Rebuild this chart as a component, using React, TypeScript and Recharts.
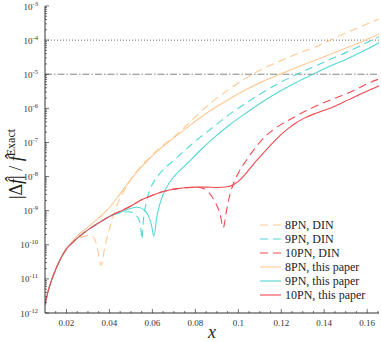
import React from "react";
import { LineChart, Line, XAxis, YAxis, ReferenceLine, Legend } from "recharts";

const ORANGE = "#FFC892";
const CYAN = "#52D8D6";
const RED = "#F04A50";
const AXIS = "#333";
const FONT = "'Liberation Serif', serif";

// [x, |Δf|/f]
const pn10Paper = [
  [0.01, 1.78e-12], [0.0115, 4.47e-12], [0.013, 8.91e-12], [0.015, 1.91e-11], [0.0175, 4.17e-11],
  [0.02, 7.59e-11], [0.023, 1.2e-10], [0.0265, 1.86e-10], [0.031, 3.02e-10], [0.0355, 4.57e-10],
  [0.04, 6.76e-10], [0.045, 9.55e-10], [0.05, 1.38e-9], [0.055, 2.09e-9], [0.06, 2.82e-9],
  [0.065, 3.63e-9], [0.07, 4.27e-9], [0.075, 4.68e-9], [0.08, 4.9e-9], [0.085, 4.9e-9],
  [0.09, 4.79e-9], [0.095, 5.01e-9], [0.0975, 5.62e-9], [0.1, 7.24e-9], [0.103, 1.12e-8],
  [0.107, 2.29e-8], [0.111, 4.37e-8], [0.115, 8.32e-8], [0.119, 1.51e-7], [0.123, 2.51e-7],
  [0.127, 3.8e-7], [0.131, 5.25e-7], [0.135, 6.76e-7], [0.139, 8.32e-7], [0.143, 1.02e-6],
  [0.147, 1.32e-6], [0.151, 1.74e-6], [0.155, 2.29e-6], [0.159, 3.02e-6], [0.163, 3.89e-6],
  [0.1655, 4.57e-6],
];

const pn10Din = [
  [0.01, 1.78e-12], [0.0115, 4.47e-12], [0.013, 8.91e-12], [0.015, 1.91e-11], [0.0175, 4.17e-11],
  [0.02, 7.59e-11], [0.023, 1.2e-10], [0.0265, 1.86e-10], [0.031, 3.02e-10], [0.0355, 4.57e-10],
  [0.04, 6.76e-10], [0.045, 9.55e-10], [0.05, 1.38e-9], [0.055, 2.09e-9], [0.06, 2.82e-9],
  [0.065, 3.63e-9], [0.07, 4.27e-9], [0.075, 4.68e-9], [0.08, 4.9e-9], [0.082, 4.79e-9],
  [0.086, 3.55e-9], [0.089, 1.91e-9], [0.0915, 7.94e-10], [0.093, 3.16e-10], [0.0945, 1.0e-9],
  [0.096, 2.82e-9], [0.0975, 5.62e-9], [0.1, 1.26e-8], [0.104, 3.16e-8], [0.108, 7.08e-8],
  [0.112, 1.38e-7], [0.116, 2.29e-7], [0.12, 3.39e-7], [0.124, 4.68e-7], [0.128, 6.46e-7],
  [0.132, 8.71e-7], [0.136, 1.15e-6], [0.14, 1.48e-6], [0.144, 1.86e-6], [0.148, 2.34e-6],
  [0.152, 2.95e-6], [0.156, 3.89e-6], [0.16, 5.25e-6], [0.1655, 7.24e-6],
];

const pn8Paper = [
  [0.01, 1.78e-12], [0.0115, 4.47e-12], [0.013, 8.91e-12], [0.015, 1.91e-11], [0.0175, 4.17e-11],
  [0.02, 7.59e-11], [0.024, 1.58e-10], [0.028, 2.63e-10], [0.031, 3.72e-10], [0.035, 6.17e-10],
  [0.0387, 1.0e-9], [0.0434, 2.29e-9], [0.047, 4.68e-9], [0.051, 1.0e-8], [0.0542, 1.74e-8],
  [0.058, 3.02e-8], [0.062, 5.37e-8], [0.0673, 1.0e-7], [0.0725, 1.82e-7], [0.0775, 3.16e-7],
  [0.083, 5.75e-7], [0.0887, 1.0e-6], [0.096, 1.91e-6], [0.1039, 3.63e-6], [0.1115, 6.17e-6],
  [0.1194, 1.0e-5], [0.127, 1.58e-5], [0.1348, 2.45e-5], [0.1427, 3.8e-5], [0.1507, 6.03e-5],
  [0.158, 9.33e-5], [0.1655, 1.51e-4],
];

const pn8Din = [
  [0.01, 1.78e-12], [0.0115, 4.47e-12], [0.013, 8.91e-12], [0.015, 1.91e-11], [0.0175, 4.17e-11],
  [0.02, 7.59e-11], [0.022, 1.05e-10], [0.025, 1.48e-10], [0.0278, 1.74e-10], [0.031, 1.91e-10],
  [0.0333, 1.38e-10], [0.0348, 6.03e-11], [0.0361, 2.51e-11], [0.038, 9.55e-11], [0.0395, 2.19e-10],
  [0.0411, 5.13e-10], [0.0426, 1.0e-9], [0.0441, 1.78e-9], [0.047, 3.98e-9], [0.0496, 7.59e-9],
  [0.054, 1.78e-8], [0.0589, 3.72e-8], [0.064, 7.41e-8], [0.0698, 1.41e-7], [0.0775, 3.98e-7],
  [0.083, 8.51e-7], [0.0884, 1.66e-6], [0.096, 3.72e-6], [0.1039, 7.94e-6], [0.1115, 1.45e-5],
  [0.1195, 2.45e-5], [0.127, 3.89e-5], [0.135, 6.03e-5], [0.143, 1.0e-4], [0.1505, 1.66e-4],
  [0.158, 2.63e-4], [0.1655, 4.17e-4],
];

const pn9Paper = [
  [0.01, 1.78e-12], [0.0115, 4.47e-12], [0.013, 8.91e-12], [0.015, 1.91e-11], [0.0175, 4.17e-11],
  [0.02, 7.59e-11], [0.023, 1.2e-10], [0.0265, 1.86e-10], [0.031, 3.02e-10], [0.0355, 4.57e-10],
  [0.04, 6.76e-10], [0.045, 8.91e-10], [0.05, 1.17e-9], [0.053, 1.26e-9], [0.056, 1.07e-9],
  [0.058, 7.41e-10], [0.0595, 3.98e-10], [0.0607, 1.78e-10], [0.062, 6.31e-10], [0.0635, 1.58e-9],
  [0.065, 3.02e-9], [0.0675, 6.03e-9], [0.07, 1.0e-8], [0.076, 2.34e-8], [0.082, 5.62e-8],
  [0.0883, 1.32e-7], [0.096, 3.31e-7], [0.1038, 7.41e-7], [0.1115, 1.58e-6], [0.1193, 3.16e-6],
  [0.127, 5.75e-6], [0.1348, 1.0e-5], [0.1425, 1.7e-5], [0.1503, 2.75e-5], [0.158, 4.68e-5],
  [0.1655, 8.32e-5],
];

const pn9Din = [
  [0.01, 1.78e-12], [0.0115, 4.47e-12], [0.013, 8.91e-12], [0.015, 1.91e-11], [0.0175, 4.17e-11],
  [0.02, 7.59e-11], [0.023, 1.2e-10], [0.0265, 1.86e-10], [0.031, 3.02e-10], [0.0355, 4.57e-10],
  [0.04, 6.76e-10], [0.045, 8.71e-10], [0.049, 9.33e-10], [0.052, 7.59e-10], [0.0538, 5.25e-10],
  [0.0546, 3.16e-10], [0.0551, 1.45e-10], [0.0558, 5.01e-10], [0.0573, 1.91e-9], [0.059, 4.37e-9],
  [0.061, 7.59e-9], [0.065, 1.58e-8], [0.07, 3.02e-8], [0.076, 6.61e-8], [0.082, 1.38e-7],
  [0.0883, 2.82e-7], [0.096, 6.76e-7], [0.1038, 1.45e-6], [0.1115, 2.95e-6], [0.1193, 5.62e-6],
  [0.127, 9.77e-6], [0.1348, 1.62e-5], [0.1425, 2.69e-5], [0.1503, 4.37e-5], [0.158, 7.41e-5],
  [0.1655, 1.26e-4],
];

const xMajor = [0.02, 0.04, 0.06, 0.08, 0.1, 0.12, 0.14, 0.16];
const xLabels = ["0.02", "0.04", "0.06", "0.08", "0.1", "0.12", "0.14", "0.16"];
const xTicks = [
  0.015, 0.02, 0.025, 0.03, 0.035, 0.04, 0.045, 0.05, 0.055, 0.06, 0.065, 0.07, 0.075, 0.08,
  0.085, 0.09, 0.095, 0.1, 0.105, 0.11, 0.115, 0.12, 0.125, 0.13, 0.135, 0.14, 0.145, 0.15,
  0.155, 0.16, 0.165,
];
const yDecades = [1e-12, 1e-11, 1e-10, 1e-9, 1e-8, 1e-7, 1e-6, 1e-5, 1e-4, 1e-3];
const yExponents = ["-12", "-11", "-10", "-9", "-8", "-7", "-6", "-5", "-4", "-3"];
const yMinorSteps = [2, 3, 4, 5, 6, 7, 8, 9];

const yTicks: number[] = [];
yDecades.forEach((d, i) => {
  yTicks.push(d);
  if (i < yDecades.length - 1) yMinorSteps.forEach((m) => yTicks.push(m * d));
});

const X_DOMAIN = [0.01, 0.1655];
const Y_DOMAIN = [1e-12, 1e-3];

const rows = (pts: number[][]) => pts.map(([x, v]) => ({ x, v }));

const series = [
  { name: "8PN, DIN", data: pn8Din, color: ORANGE, dash: "8 5" },
  { name: "9PN, DIN", data: pn9Din, color: CYAN, dash: "8 5" },
  { name: "10PN, DIN", data: pn10Din, color: RED, dash: "8 5" },
  { name: "8PN, this paper", data: pn8Paper, color: ORANGE, dash: undefined },
  { name: "9PN, this paper", data: pn9Paper, color: CYAN, dash: undefined },
  { name: "10PN, this paper", data: pn10Paper, color: RED, dash: undefined },
];

const textStyle = { fontFamily: FONT };

function XTick({ x, y, payload, top }: any) {
  const i = xMajor.indexOf(payload.value);
  const len = i >= 0 ? 4 : 2;
  return (
    <g>
      <line x1={x} x2={x} y1={y} y2={top ? y + len : y - len} stroke={AXIS} strokeWidth={0.7} />
      {!top && i >= 0 && (
        <text x={x} y={y + 13} textAnchor="middle" fontSize={9} style={textStyle} fill="#333">
          {xLabels[i]}
        </text>
      )}
    </g>
  );
}

function YTick({ x, y, payload, right }: any) {
  const i = yDecades.indexOf(payload.value);
  const len = i >= 0 ? 4 : 2;
  return (
    <g>
      <line x1={x} x2={right ? x - len : x + len} y1={y} y2={y} stroke={AXIS} strokeWidth={0.7} />
      {!right && i >= 0 && (
        <text x={x - 7} y={y + 3.5} textAnchor="end" fontSize={9} style={textStyle} fill="#333">
          10
          <tspan dy={-4} fontSize={6.5}>{yExponents[i]}</tspan>
        </text>
      )}
    </g>
  );
}

function YLabel() {
  return (
    <text transform="translate(22,164) rotate(-90)" textAnchor="middle" fontSize={18} style={textStyle} fill="#222">
      |Δ<tspan fontStyle="italic">f̂</tspan>| / <tspan fontStyle="italic">f̂</tspan>
      <tspan dy={-7} fontSize={12}>Exact</tspan>
    </text>
  );
}

function XLabel() {
  return (
    <text x={212} y={338} textAnchor="middle" fontSize={18} fontStyle="italic" style={textStyle} fill="#222">
      x
    </text>
  );
}

function LegendBox() {
  return (
    <svg width={124} height={88}>
      {series.map((s, i) => (
        <g key={s.name} transform={`translate(0, ${7 + i * 14})`}>
          <line x1={2} x2={23} y1={0} y2={0} stroke={s.color} strokeWidth={1.1} strokeDasharray={s.dash} />
          <text x={27} y={4} fontSize={12} style={textStyle} fill="#222">
            {s.name}
          </text>
        </g>
      ))}
    </svg>
  );
}

export default function App() {
  return (
    <div style={{ width: 381, height: 342, background: "#fff", fontFamily: FONT }}>
      <style>{"body{margin:0}"}</style>
      <LineChart width={381} height={342} margin={{ top: 6, right: 2, bottom: 0, left: 0 }} style={textStyle}>
        <XAxis
          xAxisId="b" dataKey="x" type="number" domain={X_DOMAIN} ticks={xTicks} interval={0}
          height={29} tickSize={0} tickMargin={0} tickLine={false} axisLine={{ stroke: AXIS }}
          tick={<XTick />} allowDataOverflow label={<XLabel />}
        />
        <XAxis
          xAxisId="t" orientation="top" type="number" domain={X_DOMAIN} ticks={xTicks} interval={0}
          height={0} tickSize={0} tickMargin={0} tickLine={false} axisLine={{ stroke: AXIS }}
          tick={<XTick top />} allowDataOverflow
        />
        <YAxis
          yAxisId="l" type="number" scale="log" domain={Y_DOMAIN} ticks={yTicks} interval={0}
          width={45} tickSize={0} tickMargin={0} tickLine={false} axisLine={{ stroke: AXIS }}
          tick={<YTick />} allowDataOverflow label={<YLabel />}
        />
        <YAxis
          yAxisId="r" orientation="right" type="number" scale="log" domain={Y_DOMAIN} ticks={yTicks}
          interval={0} width={0} tickSize={0} tickMargin={0} tickLine={false} axisLine={{ stroke: AXIS }}
          tick={<YTick right />} allowDataOverflow
        />
        <ReferenceLine xAxisId="b" yAxisId="l" y={1e-4} stroke="#444" strokeWidth={0.8} strokeDasharray="1 2" />
        <ReferenceLine xAxisId="b" yAxisId="l" y={1e-5} stroke="#666" strokeWidth={0.8} strokeDasharray="7 2 1.5 2" />
        {series.map((s) => (
          <Line
            key={s.name} xAxisId="b" yAxisId="l" data={rows(s.data)} dataKey="v" name={s.name}
            type="monotone" stroke={s.color} strokeWidth={1.1} strokeDasharray={s.dash}
            dot={false} activeDot={false} isAnimationActive={false}
          />
        ))}
        <Legend
          layout="vertical" align="center" verticalAlign="middle" content={<LegendBox />}
          wrapperStyle={{ left: 258, top: 218, width: 124 }}
        />
      </LineChart>
    </div>
  );
}
